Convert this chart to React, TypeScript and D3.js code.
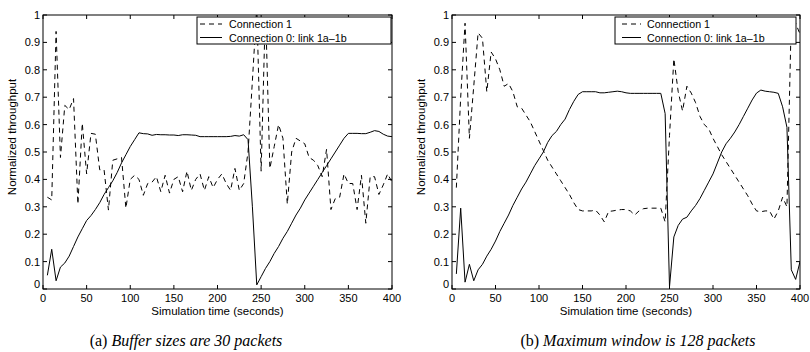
import React from 'react';
import * as d3 from 'd3';

const times = [
  5, 10, 15, 20, 25, 30, 35, 40, 45, 50, 55, 60, 65, 70, 75, 80, 85, 90, 95, 100,
  105, 110, 115, 120, 125, 130, 135, 140, 145, 150, 155, 160, 165, 170, 175, 180, 185, 190, 195, 200,
  205, 210, 215, 220, 225, 230, 235, 240, 245, 250, 255, 260, 265, 270, 275, 280, 285, 290, 295, 300,
  305, 310, 315, 320, 325, 330, 335, 340, 345, 350, 355, 360, 365, 370, 375, 380, 385, 390, 395, 400,
];

// (a) buffer sizes 30 packets
const bufConn0 = [
  0.05, 0.145, 0.03, 0.08, 0.095, 0.12, 0.155, 0.19, 0.22, 0.25, 0.268, 0.29, 0.315, 0.345, 0.37, 0.395, 0.425, 0.46, 0.49, 0.52,
  0.545, 0.57, 0.567, 0.566, 0.561, 0.564, 0.563, 0.563, 0.562, 0.562, 0.56, 0.563, 0.563, 0.562, 0.561, 0.556, 0.556, 0.556, 0.556, 0.556,
  0.556, 0.556, 0.557, 0.56, 0.558, 0.563, 0.545, 0.3, 0.015, 0.045, 0.075, 0.1, 0.13, 0.155, 0.185, 0.21, 0.24, 0.27, 0.295, 0.325,
  0.35, 0.375, 0.4, 0.425, 0.45, 0.475, 0.5, 0.525, 0.55, 0.568, 0.568, 0.568, 0.567, 0.567, 0.572, 0.578, 0.575, 0.565, 0.558, 0.556,
];
const bufConn1 = [
  0.335, 0.325, 0.94, 0.48, 0.67, 0.655, 0.695, 0.31, 0.605, 0.42, 0.568, 0.565, 0.435, 0.435, 0.288, 0.47, 0.475, 0.48, 0.295, 0.4,
  0.415, 0.4, 0.342, 0.385, 0.39, 0.41, 0.355, 0.415, 0.35, 0.4, 0.41, 0.355, 0.43, 0.36, 0.4, 0.42, 0.36, 0.41, 0.37, 0.4,
  0.42, 0.385, 0.36, 0.44, 0.36, 0.385, 0.5, 0.76, 1.03, 0.43, 1.03, 0.44, 0.52, 0.6, 0.55, 0.31, 0.5, 0.55, 0.54, 0.53,
  0.48, 0.47, 0.45, 0.41, 0.51, 0.29, 0.33, 0.335, 0.42, 0.385, 0.385, 0.29, 0.415, 0.24, 0.41, 0.41, 0.345, 0.38, 0.42, 0.39,
];

// (b) maximum window 128 packets
const winConn0 = [
  0.055, 0.295, 0.025, 0.09, 0.03, 0.07, 0.09, 0.12, 0.145, 0.175, 0.21, 0.24, 0.27, 0.305, 0.335, 0.365, 0.39, 0.42, 0.45, 0.475,
  0.5, 0.535, 0.56, 0.575, 0.6, 0.62, 0.655, 0.685, 0.71, 0.72, 0.72, 0.72, 0.72, 0.716, 0.716, 0.718, 0.72, 0.722, 0.72, 0.716,
  0.714, 0.714, 0.714, 0.714, 0.714, 0.714, 0.714, 0.714, 0.64, 0.008, 0.19, 0.232, 0.255, 0.262, 0.285, 0.305, 0.33, 0.36, 0.39, 0.42,
  0.46, 0.5, 0.53, 0.55, 0.573, 0.6, 0.63, 0.66, 0.69, 0.715, 0.726, 0.722, 0.72, 0.718, 0.714, 0.665, 0.59, 0.07, 0.035, 0.1,
];
const winConn1 = [
  0.37, 0.7, 0.97, 0.55, 0.74, 0.935, 0.915, 0.72, 0.865, 0.84, 0.8, 0.74, 0.75, 0.72, 0.665, 0.66, 0.635, 0.61, 0.575, 0.54,
  0.505, 0.47, 0.445, 0.42, 0.395, 0.37, 0.345, 0.315, 0.29, 0.285, 0.285, 0.285, 0.288, 0.27, 0.245, 0.283, 0.285, 0.288, 0.29, 0.29,
  0.285, 0.27, 0.285, 0.293, 0.295, 0.295, 0.295, 0.295, 0.245, 0.56, 0.84, 0.72, 0.65, 0.74, 0.715, 0.68, 0.63, 0.6, 0.585, 0.55,
  0.52, 0.49, 0.465, 0.44, 0.415, 0.39, 0.365, 0.34, 0.31, 0.285, 0.282, 0.285, 0.285, 0.255, 0.285, 0.335, 0.3, 0.99, 0.97, 0.93,
];

const xTicks = [0, 50, 100, 150, 200, 250, 300, 350, 400];
const yTicks = [0, 0.1, 0.2, 0.3, 0.4, 0.5, 0.6, 0.7, 0.8, 0.9, 1];
const legendLabels = ['Connection 1', 'Connection 0: link 1a\u20131b'];
const captions = [
  { tag: '(a) ', text: 'Buffer sizes are 30 packets' },
  { tag: '(b) ', text: 'Maximum window is 128 packets' },
];

const SANS = 'Liberation Sans, Arial, Helvetica, sans-serif';
const SERIF = 'Liberation Serif, Times New Roman, serif';

function Panel({ id, left, right, conn0, conn1, legend, caption }) {
  const top = 15;
  const bottom = 289;
  const x = d3.scaleLinear().domain([0, 400]).range([left, right]);
  const y = d3.scaleLinear().domain([0, 1]).range([bottom, top]);
  const line = d3.line().x((d) => x(d[0])).y((d) => y(d[1]));
  const solid = line(times.map((t, i) => [t, conn0[i]]));
  const dashed = line(times.map((t, i) => [t, conn1[i]]));
  const tl = 4;
  const fmt = (v) => (v === 0 ? '0' : v === 1 ? '1' : v.toFixed(1));

  return (
    <g>
      <defs>
        <clipPath id={`clip-${id}`}>
          <rect x={left} y={top} width={right - left} height={bottom - top} />
        </clipPath>
      </defs>
      <g clipPath={`url(#clip-${id})`} fill="none" stroke="#000">
        <path d={dashed} strokeWidth={1} strokeDasharray="5,4" />
        <path d={solid} strokeWidth={1} />
      </g>
      {/* ticks inside on all sides */}
      <g stroke="#000" strokeWidth={1}>
        {xTicks.map((t) => (
          <g key={`xt${t}`}>
            <line x1={x(t)} x2={x(t)} y1={bottom} y2={bottom - tl} />
            <line x1={x(t)} x2={x(t)} y1={top} y2={top + tl} />
          </g>
        ))}
        {yTicks.map((t) => (
          <g key={`yt${t}`}>
            <line x1={left} x2={left + tl} y1={y(t)} y2={y(t)} />
            <line x1={right} x2={right - tl} y1={y(t)} y2={y(t)} />
          </g>
        ))}
      </g>
      <rect x={left} y={top} width={right - left} height={bottom - top} fill="none" stroke="#000" strokeWidth={1} />
      <g fontFamily={SANS} fontSize={11} fill="#000">
        {xTicks.map((t) => (
          <text key={`xl${t}`} x={x(t)} y={bottom + 13} textAnchor="middle">{t}</text>
        ))}
        {yTicks.map((t) => (
          <text key={`yl${t}`} x={left - 3} y={y(t) + (t === 0 ? -1 : 4)} textAnchor="end">{fmt(t)}</text>
        ))}
      </g>
      <text x={(left + right) / 2} y={bottom + 26} textAnchor="middle" fontFamily={SANS} fontSize={11.5}>
        Simulation time (seconds)
      </text>
      <text
        transform={`translate(${left - 27},${(top + bottom) / 2 - 15}) rotate(-90)`}
        textAnchor="middle"
        fontFamily={SANS}
        fontSize={11.5}
      >
        Normalized throughput
      </text>
      {/* legend */}
      <g>
        <rect x={legend.x0} y={17} width={legend.x1 - legend.x0} height={27} fill="#fff" stroke="#000" strokeWidth={1} />
        <line x1={legend.s0} x2={legend.s1} y1={24} y2={24} stroke="#000" strokeDasharray="5,4" />
        <line x1={legend.s0} x2={legend.s1} y1={37.5} y2={37.5} stroke="#000" />
        <text x={legend.tx} y={28} fontFamily={SANS} fontSize={10.7}>{legendLabels[0]}</text>
        <text x={legend.tx} y={41.5} fontFamily={SANS} fontSize={10.7}>{legendLabels[1]}</text>
      </g>
      <text x={caption.cx} y={346} textAnchor="middle" fontFamily={SERIF} fontSize={16}>
        <tspan>{caption.tag}</tspan>
        <tspan fontStyle="italic">{caption.text}</tspan>
      </text>
    </g>
  );
}

export default function App() {
  return (
    <svg
      width={810}
      height={352}
      style={{ position: 'fixed', left: 0, top: 0, background: '#fff' }}
    >
      <rect width={810} height={352} fill="#fff" />
      <Panel
        id="a"
        left={43}
        right={392}
        conn0={bufConn0}
        conn1={bufConn1}
        legend={{ x0: 197, x1: 391, s0: 200, s1: 222, tx: 229 }}
        caption={{ cx: 186, ...captions[0] }}
      />
      <Panel
        id="b"
        left={452}
        right={800}
        conn0={winConn0}
        conn1={winConn1}
        legend={{ x0: 615, x1: 796, s0: 622, s1: 641, tx: 647 }}
        caption={{ cx: 638, ...captions[1] }}
      />
    </svg>
  );
}
